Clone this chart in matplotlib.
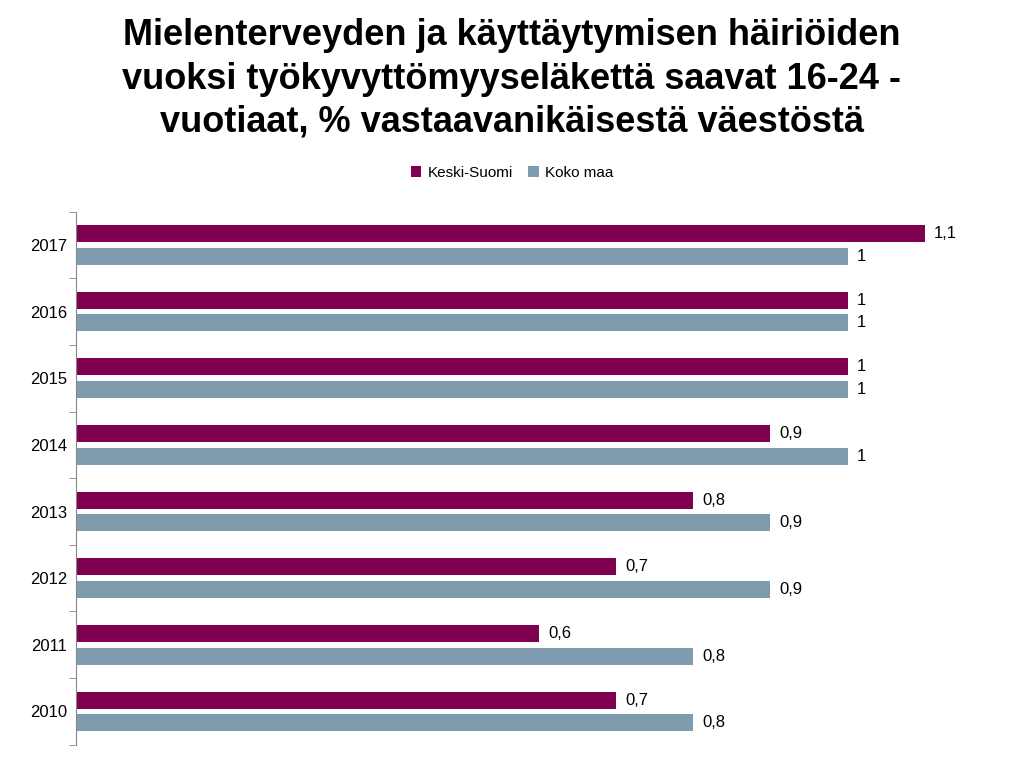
import matplotlib
matplotlib.use("Agg")
import matplotlib.pyplot as plt
import numpy as np

years = ["2010","2011","2012","2013","2014","2015","2016","2017"]
keski = [0.7,0.6,0.7,0.8,0.9,1.0,1.0,1.1]
koko = [0.8,0.8,0.9,0.9,1.0,1.0,1.0,1.0]

plt.rcParams["font.family"] = "Liberation Sans"
fig = plt.figure(figsize=(10.24,7.67), dpi=100)
ax = fig.add_axes([0.074,0.029,0.912,0.695])
y = np.arange(len(years))
h = 0.255; off = 0.17
c1, c2 = "#7F0050", "#7F9BAE"
ax.barh(y+off, keski, height=h, color=c1, label="Keski-Suomi")
ax.barh(y-off, koko, height=h, color=c2, label="Koko maa")
fmt = lambda v: ("%g" % v).replace(".", ",")
for yi, a, b in zip(y, keski, koko):
    ax.text(a+0.012, yi+off, fmt(a), va="center", ha="left", fontsize=12)
    ax.text(b+0.012, yi-off, fmt(b), va="center", ha="left", fontsize=12)
ax.set_xlim(0,1.21)
ax.set_ylim(-0.5,7.5)
ax.set_yticks(y)
ax.set_yticklabels(years, fontsize=12)
ax.set_yticks(np.arange(-0.5,8,1), minor=True)
ax.tick_params(axis="y", which="major", length=0, pad=6)
ax.tick_params(axis="y", which="minor", length=5, direction="out", color="#888888")
ax.set_xticks([])
for s in ["top","right","bottom"]:
    ax.spines[s].set_visible(False)
ax.spines["left"].set_color("#888888")
fig.text(0.5,0.897,"Mielenterveyden ja käyttäytymisen häiriöiden\nvuoksi työkyvyttömyyseläkettä saavat 16-24 -\nvuotiaat, % vastaavanikäisestä väestöstä",
         ha="center", va="center", fontsize=26, fontweight="bold", linespacing=1.3)
fig.legend(loc="center", bbox_to_anchor=(0.5,0.775), ncol=2, frameon=False, fontsize=11,
           handlelength=0.7, handleheight=0.7, columnspacing=1.0, handletextpad=0.4)
fig.savefig("out.png", dpi=100)
